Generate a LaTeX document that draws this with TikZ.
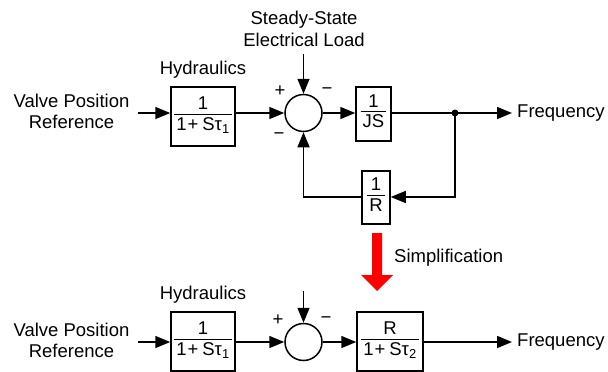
\documentclass[tikz,border=0pt]{standalone}
\usepackage{fontspec}
\setmainfont{Liberation Sans}
\usetikzlibrary{arrows.meta}
\newcommand{\bfr}[2]{{\renewcommand{\arraystretch}{0}\setlength{\tabcolsep}{2pt}\setlength{\arrayrulewidth}{0.8pt}\begin{tabular}{c}\rule[-4pt]{0pt}{17pt}#1\\\hline\rule[-6pt]{0pt}{22pt}#2\end{tabular}}}
\begin{document}
\begin{tikzpicture}[x=1pt,y=-1pt,
  every node/.style={font=\fontsize{18.5}{21.5}\selectfont, inner sep=0pt, text=black},
  line/.style={line width=1.5pt},
  arr/.style={line, -{Triangle[length=15pt,width=12pt]}},
  blk/.style={draw, line width=1.5pt},
  sumc/.style={draw, circle, line width=1.5pt, minimum size=37pt}]
\useasboundingbox (0,0) rectangle (608,372);
% ---------- top diagram ----------
\node[align=center] (vp1) at (71.5,111.5) {Valve Position\\Reference};
\coordinate (vin1) at (138,113);
\node[blk, minimum width=64pt, minimum height=59pt] (h1) at (203,116.5) {\bfr{1}{1\hspace{1pt}+\hspace{4pt}Sτ\textsubscript{1}}};
\node (hl1) at (203,70) {Hydraulics};
\node[sumc] (s1) at (303.5,113) {};
\node[align=center] (load) at (304,29) {Steady-State\\Electrical Load};
\coordinate (lc) at (303.5,54);
\node (p1) at (280,91) {+};
\node (m1) at (327,91) {−};
\node (m2) at (279,136) {−};
\node[blk, minimum width=35pt, minimum height=54pt] (js) at (373.5,114) {\bfr{1}{JS}};
\coordinate (jn) at (455,113);
\coordinate (fo1) at (512,113);
\node[anchor=west] (f1) at (517,113) {Frequency};
\node[blk, minimum width=28pt, minimum height=53pt] (rb) at (376,197.5) {\bfr{1}{R}};
\coordinate (fbr) at (455,197);
\coordinate (fbl) at (303.5,197);
\draw[arr] (vin1) -- (vin1 -| h1.west);
\draw[arr] (h1.east |- s1) -- (s1.west);
\draw[arr] (lc) -- (s1.north);
\draw[arr] (s1.east) -- (js.west |- s1);
\draw[line] (js.east |- s1) -- (jn);
\draw[arr] (jn) -- (fo1);
\draw[arr] (jn) -- (fbr) -- (rb.east |- fbr);
\draw[arr] (rb.west |- fbr) -- (fbl) -- (s1.south);
\fill (jn) circle (3.5pt);
% ---------- simplification arrow ----------
\fill[red] (372,233) -- (382,233) -- (382,275) -- (393,275) -- (377,291) -- (361,275) -- (372,275) -- cycle;
\node[anchor=west] (simp) at (394,258) {Simplification};
% ---------- bottom diagram ----------
\node[align=center] (vp2) at (71.5,340.5) {Valve Position\\Reference};
\coordinate (vin2) at (138,342);
\node[blk, minimum width=64pt, minimum height=59pt] (h2) at (203,341.5) {\bfr{1}{1\hspace{1pt}+\hspace{4pt}Sτ\textsubscript{1}}};
\node (hl2) at (203,295) {Hydraulics};
\node[sumc] (s2) at (303.5,342) {};
\coordinate (lc2) at (303.5,291);
\node (p2) at (278,320) {+};
\node (m3) at (326,320) {−};
\node[blk, minimum width=66pt, minimum height=59pt] (r2) at (390,341.5) {\bfr{R}{1\hspace{1pt}+\hspace{4pt}Sτ\textsubscript{2}}};
\coordinate (fo2) at (512,342);
\node[anchor=west] (f2) at (517,342) {Frequency};
\draw[arr] (vin2) -- (vin2 -| h2.west);
\draw[arr] (h2.east |- s2) -- (s2.west);
\draw[arr] (lc2) -- (s2.north);
\draw[arr] (s2.east) -- (r2.west |- s2);
\draw[arr] (r2.east |- s2) -- (fo2);
\end{tikzpicture}
\end{document}
